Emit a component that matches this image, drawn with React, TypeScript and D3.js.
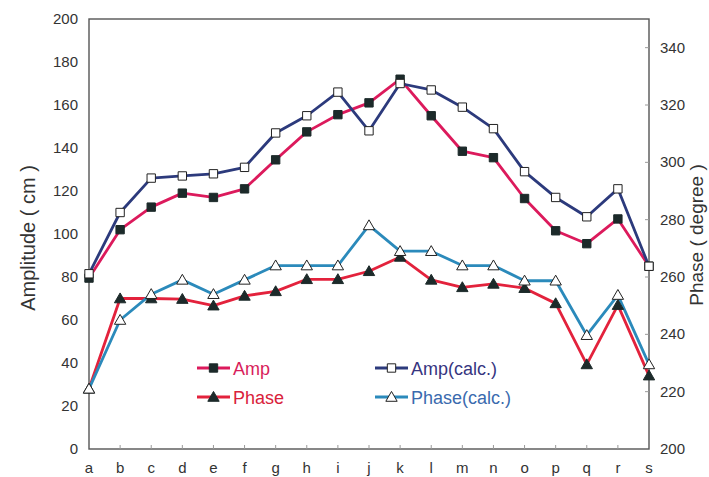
import React, { useEffect, useRef } from 'react';
import * as d3 from 'd3';

const categories = ['a', 'b', 'c', 'd', 'e', 'f', 'g', 'h', 'i', 'j', 'k', 'l', 'm', 'n', 'o', 'p', 'q', 'r', 's'];
const amp = [79.5, 102, 112.5, 119, 117, 121, 134.5, 147.5, 155.5, 161, 172, 155, 138.5, 135.5, 116.5, 101.5, 95.5, 107, 85];
const ampCalc = [81.5, 110, 126, 127, 128, 131, 147, 155, 166, 148, 170, 167, 159, 149, 129, 117, 108, 121, 85];
const phase = [221, 252.5, 252.5, 252.3, 250, 253.4, 255, 259.2, 259.2, 262, 267, 259, 256.4, 257.6, 256.1, 250.8, 229.5, 250.2, 225.6];
const phaseCalc = [221, 245, 254, 259, 254, 259, 264, 264, 264, 278, 269, 269, 264, 264, 258.7, 258.7, 239.7, 253.7, 229.5];
const ampTicks = [0, 20, 40, 60, 80, 100, 120, 140, 160, 180, 200];
const phaseTicks = [200, 220, 240, 260, 280, 300, 320, 340];

const COL_AMP = '#dc1a5c';
const COL_PHASE = '#e3223c';
const COL_AMPC = '#2c3a7c';
const COL_PHASEC = '#2b8abb';

const App: React.FC = () => {
  const svgRef = useRef<SVGSVGElement>(null);

  useEffect(() => {
    if (!svgRef.current) return;
    const svg = d3.select(svgRef.current);
    svg.selectAll('*').remove();

    const margin = { top: 19, right: 60, bottom: 28, left: 89 };
    const width = 709 - margin.left - margin.right;
    const height = 477 - margin.top - margin.bottom;
    const font = 'Liberation Sans, Arial, sans-serif';

    const g = svg.append('g').attr('transform', `translate(${margin.left},${margin.top})`);

    const x = d3.scalePoint<string>().domain(categories).range([0, width]).padding(0);
    const yL = d3.scaleLinear().domain([0, 200]).range([height, 0]);
    const yR = d3.scaleLinear().domain([200, 350]).range([height, 0]);

    // frame
    g.append('rect')
      .attr('width', width)
      .attr('height', height)
      .attr('fill', 'none')
      .attr('stroke', '#555')
      .attr('stroke-width', 1.4);

    // x ticks (inward)
    g.selectAll('line.xt')
      .data(categories.slice(1, -1))
      .enter()
      .append('line')
      .attr('x1', d => x(d) || 0)
      .attr('x2', d => x(d) || 0)
      .attr('y1', height)
      .attr('y2', height - 4)
      .attr('stroke', '#999');

    g.selectAll('text.xl')
      .data(categories)
      .enter()
      .append('text')
      .attr('x', d => x(d) || 0)
      .attr('y', height + 24)
      .attr('text-anchor', 'middle')
      .style('font-family', font)
      .style('font-size', '15px')
      .style('fill', '#333')
      .text(d => d);

    // left axis labels
    g.selectAll('text.yl')
      .data(ampTicks)
      .enter()
      .append('text')
      .attr('x', -11)
      .attr('y', d => yL(d) + 5)
      .attr('text-anchor', 'end')
      .style('font-family', font)
      .style('font-size', '15px')
      .style('fill', '#333')
      .text(d => d);

    // right axis ticks + labels
    g.selectAll('line.yr')
      .data(phaseTicks.slice(1))
      .enter()
      .append('line')
      .attr('x1', width)
      .attr('x2', width - 4)
      .attr('y1', d => yR(d))
      .attr('y2', d => yR(d))
      .attr('stroke', '#999');

    g.selectAll('text.yrl')
      .data(phaseTicks)
      .enter()
      .append('text')
      .attr('x', width + 11)
      .attr('y', d => yR(d) + 5)
      .attr('text-anchor', 'start')
      .style('font-family', font)
      .style('font-size', '15px')
      .style('fill', '#333')
      .text(d => d);

    // axis titles
    svg.append('text')
      .attr('transform', `translate(35,238) rotate(-90)`)
      .attr('text-anchor', 'middle')
      .style('font-family', font)
      .style('font-size', '20px')
      .style('fill', '#333')
      .text('Amplitude ( cm )');

    svg.append('text')
      .attr('transform', `translate(703,235) rotate(-90)`)
      .attr('text-anchor', 'middle')
      .style('font-family', font)
      .style('font-size', '19px')
      .style('fill', '#333')
      .text('Phase ( degree )');

    const series = [
      { vals: amp, scale: yL, color: COL_AMP, marker: 'square', fill: '#1c2a2a', stroke: '#1c2a2a' },
      { vals: phase, scale: yR, color: COL_PHASE, marker: 'triangle', fill: '#1c2a2a', stroke: '#1c2a2a' },
      { vals: ampCalc, scale: yL, color: COL_AMPC, marker: 'square', fill: '#fff', stroke: '#222' },
      { vals: phaseCalc, scale: yR, color: COL_PHASEC, marker: 'triangle', fill: '#fff', stroke: '#222' },
    ];

    const sq = d3.symbol().type(d3.symbolSquare).size(70);
    const tri = d3.symbol().type(d3.symbolTriangle).size(56);

    series.forEach(s => {
      const line = d3.line<number>()
        .x((_, i) => x(categories[i]) || 0)
        .y(d => s.scale(d));
      g.append('path')
        .datum(s.vals)
        .attr('d', line)
        .attr('fill', 'none')
        .attr('stroke', s.color)
        .attr('stroke-width', 2.8)
        .attr('stroke-linejoin', 'round');
    });

    series.forEach(s => {
      g.selectAll(null)
        .data(s.vals)
        .enter()
        .append('path')
        .attr('d', s.marker === 'square' ? sq() : tri())
        .attr('transform', (d, i) => `translate(${x(categories[i]) || 0},${s.scale(d) + (s.marker === 'triangle' ? 1 : 0)})`)
        .attr('fill', s.fill)
        .attr('stroke', s.stroke)
        .attr('stroke-width', 1);
    });

    // legend
    const legend = [
      { label: 'Amp', x: 197, y: 368, color: COL_AMP, text: '#d81e5b', s: series[0] },
      { label: 'Phase', x: 197, y: 397, color: COL_PHASE, text: '#d9213b', s: series[1] },
      { label: 'Amp(calc.)', x: 375, y: 368, color: COL_AMPC, text: '#36357f', s: series[2] },
      { label: 'Phase(calc.)', x: 375, y: 397, color: COL_PHASEC, text: '#3a6aae', s: series[3] },
    ];
    const leg = svg.append('g');
    legend.forEach(l => {
      leg.append('line')
        .attr('x1', l.x)
        .attr('x2', l.x + 33)
        .attr('y1', l.y)
        .attr('y2', l.y)
        .attr('stroke', l.color)
        .attr('stroke-width', 2.8);
      leg.append('path')
        .attr('d', l.s.marker === 'square' ? sq() : tri())
        .attr('transform', `translate(${l.x + 16.5},${l.y + (l.s.marker === 'triangle' ? 1 : 0)})`)
        .attr('fill', l.s.fill)
        .attr('stroke', l.s.stroke);
      leg.append('text')
        .attr('x', l.x + 36)
        .attr('y', l.y + 7)
        .style('font-family', font)
        .style('font-size', '18px')
        .style('fill', l.text)
        .text(l.label);
    });
  }, []);

  return (
    <svg
      ref={svgRef}
      width={709}
      height={477}
      style={{ position: 'absolute', left: 0, top: 0, background: '#fff' }}
    />
  );
};

export default App;
